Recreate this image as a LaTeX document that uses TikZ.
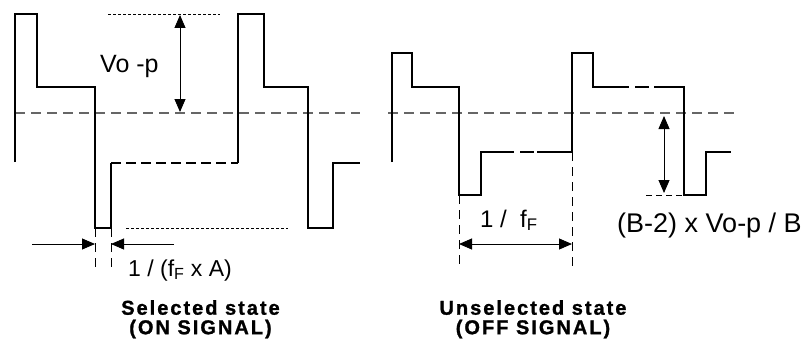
\documentclass[tikz,border=0pt]{standalone}
\usepackage{fontspec}
\setmainfont{Liberation Sans}
\newfontfamily\statefont[LetterSpace=10, BoldFeatures={FakeBold=1.2}]{Liberation Sans}
\usetikzlibrary{arrows.meta}

\begin{document}
\begin{tikzpicture}[x=1pt, y=-1pt,
        wave/.style={line width=1.1pt},
        midline/.style={line width=1.1pt, black!60, dash pattern=on 10pt off 6pt},
        guide/.style={line width=0.8pt, dash pattern=on 3pt off 2pt},
        stub/.style={line width=0.8pt, dash pattern=on 9pt off 6pt},
        dim/.style={line width=0.9pt, {Triangle[length=13pt,width=11pt]}-{Triangle[length=13pt,width=11pt]}},
        tip/.style={line width=0.9pt, -{Triangle[length=13pt,width=11pt]}},
        lbl/.style={inner sep=0pt, anchor=base west},
        state/.style={inner sep=0pt, anchor=north, align=center, font={\statefont\bfseries\fontsize{20}{19.5}\selectfont}}]
        \useasboundingbox (0,0) rectangle (810,345);

        % selected state
        \draw[midline] (15,113) -- (360,113);
        \draw[wave] (15,162) -- (15,14) -- (37,14) -- (37,87) -- (95,87) -- (95,228) -- (111,228) -- (111,163);
        \draw[wave, dash pattern=on 10pt off 5pt] (111,163) -- (238,163);
        \draw[wave] (238,163) -- (238,14) -- (264,14) -- (264,87) -- (308,87) -- (308,228) -- (333,228) -- (333,163) -- (360,163);

        \draw[guide] (108,14) -- (220,14);
        \draw[guide] (126,228) -- (288,228);
        \foreach \x in {95, 111}
        \draw[stub] (\x,228) -- (\x,267);

        \coordinate (vtop) at (180,15);
        \coordinate (vmid) at (180,112);
        \draw[dim] (vtop) -- (vmid);
        \node[lbl, font=\fontsize{25}{25}\selectfont] (vop) at (100,72) {Vo -p};

        \coordinate (wl) at (32,244);
        \coordinate (wr) at (174,244);
        \draw[tip] (wl) -- (95,244);
        \draw[tip] (wr) -- (111,244);
        \node[lbl, font=\fontsize{23}{23}\selectfont] (pulse) at (128,276) {1 / (f\textsubscript{F} x A)};

        \node[state] (sel) at (200.5,300) {Selected state\\(ON SIGNAL)};

        % unselected state
        \draw[midline] (388,113) -- (735,113);
        \draw[wave] (392,162) -- (392,53) -- (412,53) -- (412,87) -- (459,87) -- (459,195) -- (481,195) -- (481,152) -- (500,152);
        \draw[wave, dash pattern=on 14pt off 6pt] (500,152) -- (537,152);
        \draw[wave] (537,152) -- (572,152) -- (572,53) -- (593,53) -- (593,87) -- (615,87);
        \draw[wave, dash pattern=on 14pt off 6pt] (615,87) -- (654,87);
        \draw[wave] (654,87) -- (684,87) -- (684,195) -- (706,195) -- (706,152) -- (731,152);

        \draw[stub] (459,195) -- (459,267);
        \draw[stub] (572,152) -- (572,267);
        \coordinate (fl) at (459,244);
        \coordinate (fr) at (572,244);
        \draw[dim] (fl) -- (fr);
        \node[lbl, font=\fontsize{24}{24}\selectfont] (frame) at (480,227) {1 /\ \ f\textsubscript{F}};

        \draw[guide, dash pattern=on 6pt off 4pt] (646,195) -- (684,195);
        \coordinate (btop) at (664,116);
        \coordinate (bbot) at (664,193);
        \draw[dim] (btop) -- (bbot);
        \node[lbl, font=\fontsize{27}{27}\selectfont] (bias) at (617,232) {(B-2) x Vo-p / B};

        \node[state] (unsel) at (533,300) {Unselected state\\(OFF SIGNAL)};

    \end{tikzpicture}
\end{document}
